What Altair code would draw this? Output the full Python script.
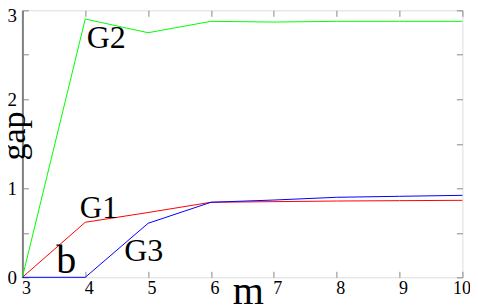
import altair as alt
import pandas as pd

# ---- data ----
m_values = [3, 4, 5, 6, 7, 8, 9, 10]
g1_values = [0.0, 0.618, 0.728, 0.843, 0.850, 0.857, 0.861, 0.865]
g2_values = [0.0, 2.902, 2.748, 2.876, 2.868, 2.876, 2.876, 2.876]
g3_values = [0.0, 0.0, 0.607, 0.843, 0.868, 0.899, 0.910, 0.921]
series_names = ["G1", "G2", "G3"]
series_colors = ["#ff0000", "#00ff00", "#0000ff"]

x_ticks = [3, 4, 5, 6, 7, 8, 9, 10]
y_ticks = [0, 0.5, 1, 1.5, 2, 2.5, 3]

# annotation labels (anchor in data units)
label_text = ["G1", "G2", "G3", "b"]
label_x = [4.214, 4.335, 4.93, 3.698]
label_y = [0.670, 2.580, 0.187, 0.045]
label_size = [31, 32, 32, 40]

# axis titles (anchor in data units)
x_title = "m"
x_title_pos = (6.594, -0.298)
y_title = "gap"
y_title_pos = (3.045, 1.588)

FONT = "'Liberation Serif', 'Times New Roman', Times, serif"
W, H = 440, 267

rows = []
for name, vals in zip(series_names, [g1_values, g2_values, g3_values]):
    for m, v in zip(m_values, vals):
        rows.append({"m": m, "gap": v, "series": name})
lines_df = pd.DataFrame(rows)
labels_df = pd.DataFrame({"text": label_text, "m": label_x, "gap": label_y, "fs": label_size})
xt_df = pd.DataFrame({"text": [x_title], "m": [x_title_pos[0]], "gap": [x_title_pos[1]]})
yt_df = pd.DataFrame({"text": [y_title], "m": [y_title_pos[0]], "gap": [y_title_pos[1]]})

xscale = alt.Scale(domain=[3, 10], nice=False, zero=False)
yscale = alt.Scale(domain=[0, 3], nice=False, zero=False)

# main lines with bottom / left axes (ticks inward via negative offset)
lines = alt.Chart(lines_df).mark_line(strokeWidth=1).encode(
    x=alt.X("m:Q", scale=xscale, axis=alt.Axis(
        orient="bottom", offset=-6, tickSize=6, tickColor="#888888", tickWidth=1,
        domain=False, grid=False, title=None, values=x_ticks, format="d",
        labelFont=FONT, labelFontSize=18, labelColor="black",
        labelAlign="left", labelFlush=False, labelPadding=2,
        labelOffset={"condition": {"test": "datum.value === 10", "value": -10}, "value": -1})),
    y=alt.Y("gap:Q", scale=yscale, axis=alt.Axis(
        orient="left", offset=-6, tickSize=6, tickColor="#888888", tickWidth=1,
        domain=False, grid=False, title=None, values=y_ticks,
        labelExpr="datum.value % 1 === 0 ? format(datum.value, 'd') : ''",
        labelFont=FONT, labelFontSize=19, labelColor="black",
        labelPadding=6, labelFlush=False,
        labelOffset={"condition": {"test": "datum.value === 3", "value": 5}, "value": 0})),
    color=alt.Color("series:N", scale=alt.Scale(domain=series_names, range=series_colors), legend=None),
    detail="series:N",
)

# series labels with top / right tick-only axes
labels = alt.Chart(labels_df).mark_text(font=FONT, color="black", align="center", baseline="alphabetic").encode(
    x=alt.X("m:Q", scale=xscale, axis=alt.Axis(
        orient="top", offset=-6, tickSize=6, tickColor="#888888", tickWidth=1,
        domain=False, grid=False, labels=False, title=None, values=x_ticks)),
    y=alt.Y("gap:Q", scale=yscale, axis=alt.Axis(
        orient="right", offset=-6, tickSize=6, tickColor="#888888", tickWidth=1,
        domain=False, grid=False, labels=False, title=None, values=y_ticks)),
    text="text:N",
    size=alt.Size("fs:Q", scale=None),
)

# x title, plus a gray left axis line
xtitle = alt.Chart(xt_df).mark_text(font=FONT, fontSize=40, color="black", align="center", baseline="alphabetic").encode(
    x=alt.X("m:Q", scale=xscale, axis=None),
    y=alt.Y("gap:Q", scale=yscale, axis=alt.Axis(
        orient="left", offset=0, domain=True, domainColor="#808080", domainWidth=2,
        ticks=False, labels=False, grid=False, title=None)),
    text="text:N",
)

ytitle = alt.Chart(yt_df).mark_text(font=FONT, fontSize=34, color="black", align="center",
                                    baseline="alphabetic", angle=270).encode(
    x=alt.X("m:Q", scale=xscale, axis=None),
    y=alt.Y("gap:Q", scale=yscale, axis=None),
    text="text:N",
)

chart = alt.layer(lines, labels, xtitle, ytitle).resolve_axis(
    x="independent", y="independent"
).properties(
    width=W, height=H,
    autosize=alt.AutoSizeParams(type="none"),
    padding={"left": 14.4, "top": 2.3, "right": 7.6, "bottom": 30},
).configure_view(
    stroke="black", strokeWidth=1
).configure(background="white")

chart.save("out.html", embed_options={"renderer": "svg", "actions": False})
